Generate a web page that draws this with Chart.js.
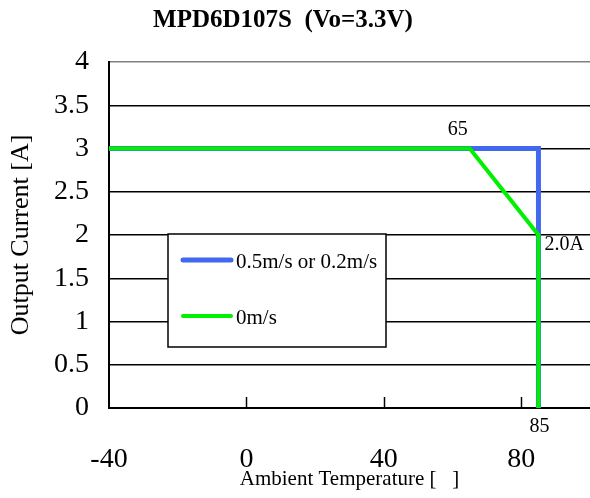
<!DOCTYPE html>
<html>
<head>
<meta charset="utf-8">
<script src="https://cdn.jsdelivr.net/npm/chart.js@4"></script>
<style>
  html, body { margin: 0; padding: 0; background: #fff; }
  #wrap { width: 590px; height: 498px; }
</style>
</head>
<body>
<div id="wrap"><canvas id="derating"></canvas></div>
<script>
// data
const airflowLabels = ['0.5m/s or 0.2m/s', '0m/s'];
const fastTemp = [-40, 85, 85];
const fastCurrent = [3, 3, 0];
const stillTemp = [-40, 65, 85, 85];
const stillCurrent = [3, 3, 2, 0];
const xTicks = [-40, 0, 40, 80];
const yTicks = [0, 0.5, 1, 1.5, 2, 2.5, 3, 3.5, 4];
const notes = [
    { text: '65', x: 65, y: 3, dx: -12, dy: -19, align: 'center' },
    { text: '2.0A', x: 85, y: 2, dx: 6, dy: 10, align: 'left' },
    { text: '85', x: 85, y: 0, dx: 1, dy: 19, align: 'center' }
];

const serif = "'Liberation Serif', 'DejaVu Serif', serif";

function toPoints(xs, ys) {
    return xs.map((x, i) => ({ x: x, y: ys[i] }));
}

// title, inner tick marks, legend box and the little value notes
const extras = {
    id: 'extras',
    afterDraw(chart) {
        const ctx = chart.ctx;
        const xs = chart.scales.x, ys = chart.scales.y;
        ctx.save();

        ctx.fillStyle = '#000';
        ctx.font = 'bold 25px ' + serif;
        ctx.textAlign = 'center';
        ctx.textBaseline = 'middle';
        ctx.fillText('MPD6D107S  (Vo=3.3V)', 283, 21);

        // short ticks pointing up into the plot
        ctx.strokeStyle = '#000';
        ctx.lineWidth = 1.5;
        xTicks.slice(1).forEach(v => {
            const px = Math.round(xs.getPixelForValue(v)) + 0.5;
            ctx.beginPath();
            ctx.moveTo(px, ys.bottom);
            ctx.lineTo(px, ys.bottom - 11);
            ctx.stroke();
        });

        // legend
        const lx = 168, ly = 234, lw = 218, lh = 113;
        ctx.fillStyle = '#fff';
        ctx.fillRect(lx, ly, lw, lh);
        ctx.strokeStyle = '#000';
        ctx.lineWidth = 1.5;
        ctx.strokeRect(lx, ly, lw, lh);
        ctx.lineCap = 'round';
        chart.data.datasets.forEach((ds, i) => {
            const yy = ly + 26 + i * 56;
            ctx.strokeStyle = ds.borderColor;
            ctx.lineWidth = ds.borderWidth;
            ctx.beginPath();
            ctx.moveTo(183, yy);
            ctx.lineTo(231, yy);
            ctx.stroke();
            ctx.fillStyle = '#000';
            ctx.font = '21px ' + serif;
            ctx.textAlign = 'left';
            ctx.fillText(ds.label, 236, yy + 2);
        });

        ctx.font = '20px ' + serif;
        notes.forEach(n => {
            ctx.textAlign = n.align;
            ctx.fillText(n.text, xs.getPixelForValue(n.x) + n.dx, ys.getPixelForValue(n.y) + n.dy);
        });
        ctx.restore();
    }
};

new Chart(document.getElementById('derating').getContext('2d'), {
    type: 'scatter',
    data: {
        datasets: [
            {
                label: airflowLabels[0],
                data: toPoints(fastTemp, fastCurrent),
                showLine: true,
                borderColor: '#4169f0',
                backgroundColor: '#4169f0',
                borderWidth: 5,
                borderJoinStyle: 'miter',
                pointRadius: 0,
                order: 2
            },
            {
                label: airflowLabels[1],
                data: toPoints(stillTemp, stillCurrent),
                showLine: true,
                borderColor: '#00f000',
                backgroundColor: '#00f000',
                borderWidth: 4,
                pointRadius: 0,
                order: 1
            }
        ]
    },
    options: {
        responsive: true, maintainAspectRatio: false,
        animation: false,
        layout: { padding: { top: 62, right: 0, left: 0, bottom: 0 } },
        plugins: {
            legend: { display: false },
            title: { display: false },
            tooltip: { enabled: false }
        },
        scales: {
            x: {
                type: 'linear', min: -40, max: 100,
                afterBuildTicks: s => { s.ticks = xTicks.map(v => ({ value: v })); },
                afterFit: s => { s.height = 90; },
                grid: { display: false, drawTicks: false },
                border: { color: '#000', width: 2 },
                ticks: { color: '#000', font: { family: serif, size: 28 }, padding: 35, maxRotation: 0,
                         callback: v => String(v) },
                title: { display: true, text: 'Ambient Temperature [   ]', color: '#000',
                         font: { family: serif, size: 21 }, padding: { top: 0, bottom: 6 } }
            },
            y: {
                min: 0, max: 4,
                afterBuildTicks: s => { s.ticks = yTicks.map(v => ({ value: v })); },
                afterFit: s => { s.width = 109; },
                grid: {
                    drawTicks: false,
                    color: c => c.tick && c.tick.value === 4 ? '#808080' : '#000',
                    lineWidth: 1.5
                },
                border: { color: '#000', width: 2 },
                ticks: { color: '#000', font: { family: serif, size: 28 }, padding: 20,
                         callback: v => String(v) },
                title: { display: true, text: 'Output Current [A]', color: '#000',
                         font: { family: serif, size: 26 }, padding: { top: 6, bottom: 0 } }
            }
        }
    },
    plugins: [extras]
});
</script>
</body>
</html>
